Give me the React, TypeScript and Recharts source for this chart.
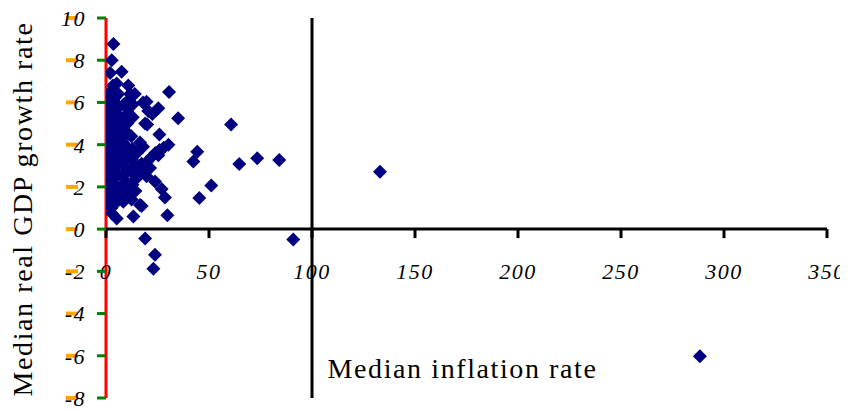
import React from 'react';
import { ScatterChart, Scatter, XAxis, YAxis, ReferenceLine } from 'recharts';

// [median inflation rate, median real GDP growth rate] per country
const lowInflation: [number, number][] = [
  [0.4, 1.4], [0.6, 2.0], [0.3, 2.6], [0.5, 3.1], [0.4, 3.6], [0.7, 4.2], [0.3, 4.6], [0.6, 5.0], [1.1, 5.6], [1.1, 6.4], [0.8, 5.9],
  [2.6, 1.0], [2.2, 1.6], [2.8, 2.2], [2.4, 2.8], [2.0, 3.3], [2.9, 3.9], [2.3, 4.4], [2.7, 4.9], [2.1, 5.4], [3.0, 5.9], [2.2, 6.5],
  [4.3, 1.2], [4.8, 1.8], [4.1, 2.4], [4.6, 3.0], [4.4, 3.5], [4.9, 4.0], [4.2, 4.6], [4.7, 5.1], [4.5, 5.7], [4.0, 6.2],
  [6.3, 1.5], [6.8, 2.0], [6.1, 2.6], [6.6, 3.2], [6.4, 3.7], [6.9, 4.3], [6.2, 4.8], [6.7, 5.3], [6.5, 5.8], [6.0, 6.4],
  [8.4, 1.3], [8.9, 1.9], [8.2, 2.5], [8.7, 3.0], [8.5, 3.6], [8.1, 4.1], [8.8, 4.7], [8.3, 5.2], [8.6, 5.9],
  [10.5, 1.6], [10.2, 2.2], [10.8, 2.8], [10.4, 3.4], [10.1, 3.9], [10.7, 4.5], [10.3, 5.0], [10.6, 5.5], [10.9, 6.1],
  [12.4, 1.4], [12.8, 2.1], [12.2, 2.7], [12.6, 3.3], [12.9, 3.8], [12.3, 4.4], [13.0, 5.3],
  [14.3, 1.8], [14.7, 2.4], [14.2, 3.0], [15.0, 3.6],
  [3.6, 8.77], [2.8, 8.0], [2.0, 7.4], [7.6, 7.45], [5.2, 6.9], [10.8, 6.8], [14.0, 6.4], [11.7, 6.4], [13.0, 5.9], [3.4, 6.8],
  [13.3, 0.6], [5.2, 0.5], [2.8, 0.75],
];

const midInflation: [number, number][] = [
  [16.5, 4.1], [18.0, 3.9], [17.3, 3.1], [19.7, 2.5], [21.4, 2.9], [16.5, 2.8], [18.0, 3.0], [20.0, 3.2],
  [22.0, 3.4], [24.0, 3.6], [25.4, 3.5], [26.0, 3.75], [28.0, 3.85], [30.3, 4.0], [25.9, 4.48], [20.0, 4.95],
  [19.0, 5.0], [22.5, 5.45], [20.5, 5.6], [25.4, 5.72], [19.7, 6.03], [18.0, 6.0], [30.6, 6.5], [35.0, 5.25],
  [23.8, 2.25], [27.0, 1.9], [28.6, 1.5], [29.8, 0.66], [17.3, 1.1], [16.5, 1.14], [19.0, -0.45], [23.8, -1.22],
  [23.0, -1.88],
];

const highInflation: [number, number][] = [
  [44.3, 3.66], [42.4, 3.2], [60.7, 4.96], [64.7, 3.08], [73.4, 3.36], [84.1, 3.27], [133.0, 2.72],
  [51.1, 2.07], [45.3, 1.47], [90.9, -0.49], [288.3, -6.02],
];

const xTicks = [0, 50, 100, 150, 200, 250, 300, 350];
const yTicks = [-8, -6, -4, -2, 0, 2, 4, 6, 8, 10];

const points = [...lowInflation, ...midInflation, ...highInflation].map(([inflation, growth]) => ({ inflation, growth }));

const W = 840;
const H = 403;
const X_AXIS_H = 1;
const MARGIN = { top: 10, right: 21, bottom: 12, left: 0 };
const Y_AXIS_W = 98;
const X_DOMAIN: [number, number] = [0, 350];
const Y_DOMAIN: [number, number] = [-8, 10];
const PLOT_H = H - MARGIN.top - MARGIN.bottom - X_AXIS_H;
const ZERO_LIFT = (PLOT_H * (0 - Y_DOMAIN[0])) / (Y_DOMAIN[1] - Y_DOMAIN[0]);

const NAVY = '#000080';
const INK = '#000000';
const SERIF = '"Liberation Serif", "Times New Roman", serif';
const tickFont = { fontFamily: SERIF, fontStyle: 'italic', fontSize: 22, fill: INK, letterSpacing: 1.5 };
const titleFont = { fontFamily: SERIF, fontSize: 28, fill: INK, letterSpacing: 1.6 };

function XTick(props: any) {
  const { x, y, payload } = props;
  const y0 = y - ZERO_LIFT;
  return (
    <g>
      <line x1={x} x2={x} y1={y0} y2={y0 + 9} stroke={INK} strokeWidth={3} />
      <text x={x} y={y0 + 50} textAnchor="middle" {...tickFont}>
        {payload.value}
      </text>
    </g>
  );
}

function YTick(props: any) {
  const { x, y, payload } = props;
  return (
    <g>
      <line x1={x - 9} x2={x} y1={y} y2={y} stroke="green" strokeWidth={3} />
      <rect x={x - 40} y={y - 2} width={12} height={4} fill="orange" />
      <text x={x - 20} y={y} dy="0.36em" textAnchor="end" {...tickFont}>
        {payload.value}
      </text>
    </g>
  );
}

function Diamond(props: any) {
  const { cx, cy } = props;
  const r = 7;
  return <polygon points={`${cx},${cy - r} ${cx + r},${cy} ${cx},${cy + r} ${cx - r},${cy}`} fill={NAVY} />;
}

function XTitle(props: any) {
  const { viewBox } = props;
  return (
    <text x={viewBox.x + viewBox.width / 2 - 4} y={viewBox.y - 20} textAnchor="middle" {...titleFont}>
      Median inflation rate
    </text>
  );
}

function YTitle(props: any) {
  const { viewBox } = props;
  const cx = 24;
  const cy = viewBox.y + viewBox.height / 2 + 1;
  return (
    <text x={cx} y={cy} textAnchor="middle" transform={`rotate(-90, ${cx}, ${cy})`} {...titleFont}>
      Median real GDP growth rate
    </text>
  );
}

export default function App() {
  return (
    <ScatterChart width={W} height={H} margin={MARGIN}>
      <XAxis
        type="number"
        dataKey="inflation"
        domain={X_DOMAIN}
        ticks={xTicks}
        allowDataOverflow
        height={X_AXIS_H}
        axisLine={false}
        tickLine={false}
        tickSize={0}
        tickMargin={0}
        tick={<XTick />}
        interval={0}
        label={<XTitle />}
      />
      <YAxis
        type="number"
        dataKey="growth"
        domain={Y_DOMAIN}
        ticks={yTicks}
        width={Y_AXIS_W}
        interval={0}
        axisLine={false}
        tickLine={false}
        tickSize={0}
        tickMargin={0}
        tick={<YTick />}
        label={<YTitle />}
      />
      <ReferenceLine x={0} stroke="red" strokeWidth={3} />
      <ReferenceLine x={100} stroke={INK} strokeWidth={3} />
      <ReferenceLine y={0} stroke={INK} strokeWidth={3} />
      <Scatter data={points} shape={<Diamond />} isAnimationActive={false} />
    </ScatterChart>
  );
}
